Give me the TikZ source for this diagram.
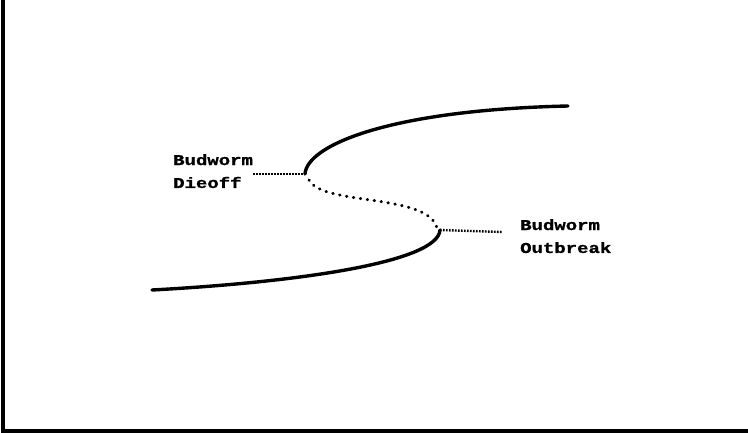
\documentclass[tikz,border=0pt]{standalone}
\usepackage{fontspec}
\newfontfamily\typew[FakeStretch=1.27,FakeBold=1.2]{Liberation Mono}
\begin{document}
\begin{tikzpicture}[x=1bp,y=-1bp,
  frame/.style={line width=4bp},
  branch/.style={line width=3.4bp,line cap=round},
  unstable/.style={line width=3bp,line cap=round,dash pattern=on 0.5bp off 6.5bp},
  leader/.style={line width=2.4bp,dash pattern=on 1.6bp off 1.4bp},
  lab/.style={inner sep=0pt,align=left,anchor=north west,font=\typew\bfseries\fontsize{15}{23}\selectfont}]
\useasboundingbox (0,0) rectangle (748,433);
% frame
\coordinate (tl) at (3,0);
\coordinate (bl) at (3,431);
\coordinate (br) at (748,431);
\draw[frame] (tl) -- (bl) -- (br);
% curve points
\coordinate (up0) at (305,174);
\coordinate (up1) at (568,106);
\coordinate (lo0) at (152,290);
\coordinate (lo1) at (440,230);
\coordinate (mid0) at (309,180);
\coordinate (mid1) at (437,228);
\draw[branch] (up0) .. controls (307,145) and (390,110) .. (up1);
\draw[branch] (lo0) .. controls (300,282) and (438,262) .. (lo1);
\draw[unstable] (mid0) .. controls (322,206) and (428,193) .. (mid1);
% labels
\node[lab] (dieoff) at (173,154) {Budworm\\Dieoff};
\node[lab] (outbreak) at (520,219) {Budworm\\Outbreak};
\coordinate (dl) at (253,174);
\coordinate (ol) at (502,232);
\draw[leader] (dl) -- (up0);
\draw[leader] (lo1) -- (ol);
\end{tikzpicture}
\end{document}
